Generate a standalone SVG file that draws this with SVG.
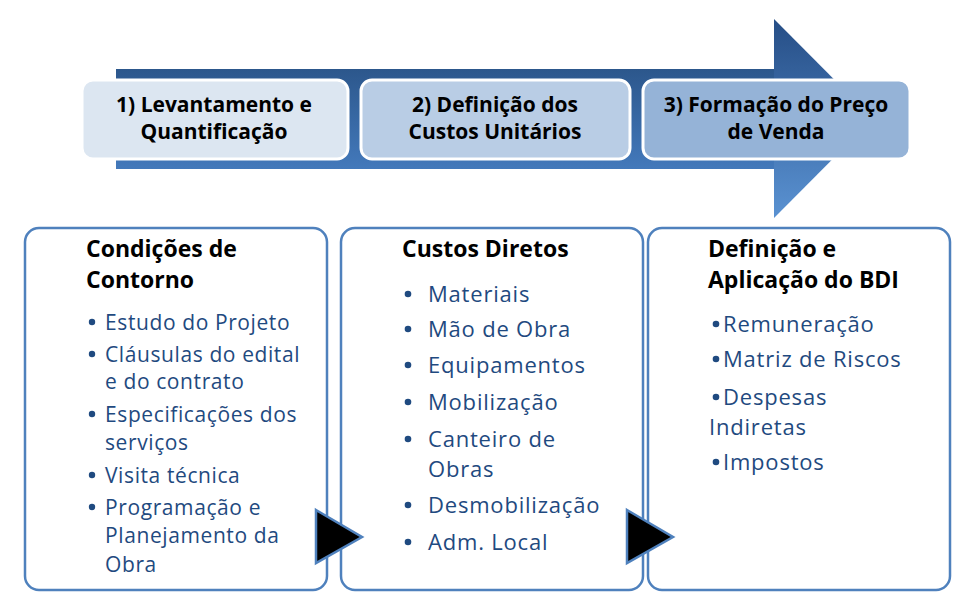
<svg xmlns="http://www.w3.org/2000/svg" width="964" height="613" viewBox="0 0 964 613">
<defs>
<linearGradient id="shaft" x1="0" y1="0" x2="0" y2="1">
<stop offset="0" stop-color="#2c578c"/>
<stop offset="1" stop-color="#4379bb"/>
</linearGradient>
<linearGradient id="head" x1="0" y1="0" x2="0" y2="1">
<stop offset="0" stop-color="#264e86"/>
<stop offset="1" stop-color="#5a92d2"/>
</linearGradient>
<style>
.step{stroke:#ffffff;stroke-width:3}
.steptxt{font-family:"Open Sans","Liberation Sans",sans-serif;font-weight:bold;font-size:21px;fill:#000;text-anchor:middle}
.card{fill:#ffffff;stroke:#4f81bd;stroke-width:2.5}
.title{font-family:"Open Sans","Liberation Sans",sans-serif;font-weight:bold;font-size:23px;fill:#000}
.item{font-family:"Open Sans","Liberation Sans",sans-serif;font-size:21px;letter-spacing:0.6px;fill:#1f4a80}
.big{font-size:22px;letter-spacing:0.8px}
.dot{fill:#1f4a80}
.tri{fill:#000;stroke:#4f81bd;stroke-width:2.5;stroke-linejoin:miter}
</style>
</defs>
<g id="big-arrow">
<rect x="116" y="69" width="660" height="100" fill="url(#shaft)"/>
<polygon points="774,19 873,118.5 774,218" fill="url(#head)"/>
</g>
<g id="step1">
<rect class="step" x="82" y="80" width="266" height="79" rx="11" fill="#dce6f1"/>
<text class="steptxt" x="214" y="112">1) Levantamento e</text>
<text class="steptxt" x="214" y="139">Quantificação</text>
</g>
<g id="step2">
<rect class="step" x="361" y="80" width="269" height="79" rx="11" fill="#b9cde5"/>
<text class="steptxt" x="495" y="112">2) Definição dos</text>
<text class="steptxt" x="495" y="139">Custos Unitários</text>
</g>
<g id="step3">
<rect class="step" x="643" y="80" width="267" height="79" rx="11" fill="#95b3d7"/>
<text class="steptxt" x="776" y="112">3) Formação do Preço</text>
<text class="steptxt" x="776" y="139">de Venda</text>
</g>
<g id="card1">
<rect class="card" x="25" y="228" width="302" height="362" rx="14"/>
<text class="title" x="86" y="257">Condições de</text>
<text class="title" x="86" y="288">Contorno</text>
<circle class="dot" cx="92" cy="322" r="3.2"/><text class="item" x="105" y="330">Estudo do Projeto</text>
<circle class="dot" cx="92" cy="354" r="3.2"/><text class="item" x="105" y="362">Cláusulas do edital</text>
<text class="item" x="105" y="389">e do contrato</text>
<circle class="dot" cx="92" cy="414" r="3.2"/><text class="item" x="105" y="422">Especificações dos</text>
<text class="item" x="105" y="450">serviços</text>
<circle class="dot" cx="92" cy="475" r="3.2"/><text class="item" x="105" y="483">Visita técnica</text>
<circle class="dot" cx="92" cy="507" r="3.2"/><text class="item" x="105" y="515">Programação e</text>
<text class="item" x="105" y="543">Planejamento da</text>
<text class="item" x="105" y="572">Obra</text>
</g>
<g id="card2">
<rect class="card" x="341" y="228" width="302" height="362" rx="14"/>
<text class="title" x="402" y="257">Custos Diretos</text>
<circle class="dot" cx="408" cy="294" r="3.3"/><text class="item big" x="428" y="302">Materiais</text>
<circle class="dot" cx="408" cy="329" r="3.3"/><text class="item big" x="428" y="337">Mão de Obra</text>
<circle class="dot" cx="408" cy="365" r="3.3"/><text class="item big" x="428" y="373">Equipamentos</text>
<circle class="dot" cx="408" cy="402" r="3.3"/><text class="item big" x="428" y="410">Mobilização</text>
<circle class="dot" cx="408" cy="439" r="3.3"/><text class="item big" x="428" y="447">Canteiro de</text>
<text class="item big" x="428" y="477">Obras</text>
<circle class="dot" cx="408" cy="505" r="3.3"/><text class="item big" x="428" y="513">Desmobilização</text>
<circle class="dot" cx="408" cy="542" r="3.3"/><text class="item big" x="428" y="550">Adm. Local</text>
</g>
<g id="card3">
<rect class="card" x="648" y="228" width="302" height="362" rx="14"/>
<text class="title" x="708" y="257">Definição e</text>
<text class="title" x="708" y="288">Aplicação do BDI</text>
<circle class="dot" cx="716" cy="324" r="3.3"/><text class="item big" x="723" y="332">Remuneração</text>
<circle class="dot" cx="716" cy="359" r="3.3"/><text class="item big" x="723" y="367">Matriz de Riscos</text>
<circle class="dot" cx="716" cy="397" r="3.3"/><text class="item big" x="723" y="405">Despesas</text>
<text class="item big" x="709" y="435">Indiretas</text>
<circle class="dot" cx="716" cy="462" r="3.3"/><text class="item big" x="723" y="470">Impostos</text>
</g>
<g id="connectors">
<polygon class="tri" points="316,510 362,537 316,563"/>
<polygon class="tri" points="627,510 673,537 627,563"/>
</g>
</svg>
